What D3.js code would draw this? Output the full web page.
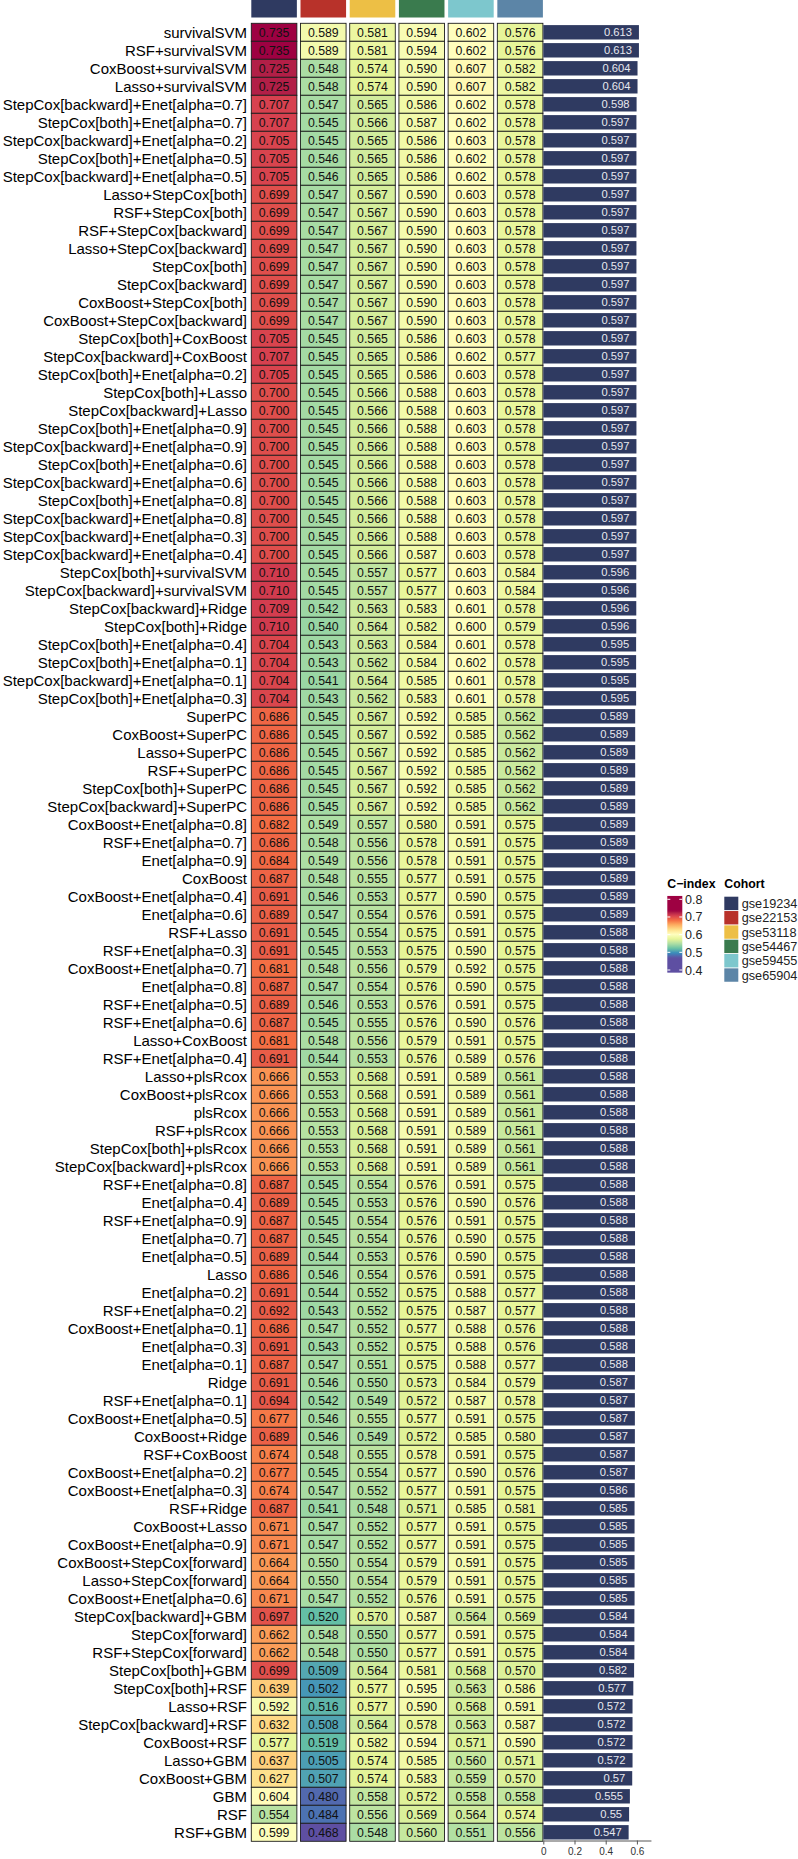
<!DOCTYPE html>
<html>
<head>
<meta charset="utf-8">
<script src="https://cdn.jsdelivr.net/npm/d3@7"></script>
<style>
  body { margin: 0; background: #fff; }
  svg { display: block; font-family: "Liberation Sans", Arial, sans-serif; }
</style>
</head>
<body>
<div id="chart"></div>
<script>
// model names, top to bottom
const methods = [
  "survivalSVM", "RSF+survivalSVM", "CoxBoost+survivalSVM", "Lasso+survivalSVM",
  "StepCox[backward]+Enet[alpha=0.7]", "StepCox[both]+Enet[alpha=0.7]", "StepCox[backward]+Enet[alpha=0.2]",
  "StepCox[both]+Enet[alpha=0.5]", "StepCox[backward]+Enet[alpha=0.5]", "Lasso+StepCox[both]",
  "RSF+StepCox[both]", "RSF+StepCox[backward]", "Lasso+StepCox[backward]", "StepCox[both]",
  "StepCox[backward]", "CoxBoost+StepCox[both]", "CoxBoost+StepCox[backward]", "StepCox[both]+CoxBoost",
  "StepCox[backward]+CoxBoost", "StepCox[both]+Enet[alpha=0.2]", "StepCox[both]+Lasso",
  "StepCox[backward]+Lasso", "StepCox[both]+Enet[alpha=0.9]", "StepCox[backward]+Enet[alpha=0.9]",
  "StepCox[both]+Enet[alpha=0.6]", "StepCox[backward]+Enet[alpha=0.6]", "StepCox[both]+Enet[alpha=0.8]",
  "StepCox[backward]+Enet[alpha=0.8]", "StepCox[backward]+Enet[alpha=0.3]", "StepCox[backward]+Enet[alpha=0.4]",
  "StepCox[both]+survivalSVM", "StepCox[backward]+survivalSVM", "StepCox[backward]+Ridge", "StepCox[both]+Ridge",
  "StepCox[both]+Enet[alpha=0.4]", "StepCox[both]+Enet[alpha=0.1]", "StepCox[backward]+Enet[alpha=0.1]",
  "StepCox[both]+Enet[alpha=0.3]", "SuperPC", "CoxBoost+SuperPC", "Lasso+SuperPC", "RSF+SuperPC",
  "StepCox[both]+SuperPC", "StepCox[backward]+SuperPC", "CoxBoost+Enet[alpha=0.8]", "RSF+Enet[alpha=0.7]",
  "Enet[alpha=0.9]", "CoxBoost", "CoxBoost+Enet[alpha=0.4]", "Enet[alpha=0.6]", "RSF+Lasso",
  "RSF+Enet[alpha=0.3]", "CoxBoost+Enet[alpha=0.7]", "Enet[alpha=0.8]", "RSF+Enet[alpha=0.5]",
  "RSF+Enet[alpha=0.6]", "Lasso+CoxBoost", "RSF+Enet[alpha=0.4]", "Lasso+plsRcox", "CoxBoost+plsRcox",
  "plsRcox", "RSF+plsRcox", "StepCox[both]+plsRcox", "StepCox[backward]+plsRcox", "RSF+Enet[alpha=0.8]",
  "Enet[alpha=0.4]", "RSF+Enet[alpha=0.9]", "Enet[alpha=0.7]", "Enet[alpha=0.5]", "Lasso",
  "Enet[alpha=0.2]", "RSF+Enet[alpha=0.2]", "CoxBoost+Enet[alpha=0.1]", "Enet[alpha=0.3]", "Enet[alpha=0.1]",
  "Ridge", "RSF+Enet[alpha=0.1]", "CoxBoost+Enet[alpha=0.5]", "CoxBoost+Ridge", "RSF+CoxBoost",
  "CoxBoost+Enet[alpha=0.2]", "CoxBoost+Enet[alpha=0.3]", "RSF+Ridge", "CoxBoost+Lasso",
  "CoxBoost+Enet[alpha=0.9]", "CoxBoost+StepCox[forward]", "Lasso+StepCox[forward]", "CoxBoost+Enet[alpha=0.6]",
  "StepCox[backward]+GBM", "StepCox[forward]", "RSF+StepCox[forward]", "StepCox[both]+GBM",
  "StepCox[both]+RSF", "Lasso+RSF", "StepCox[backward]+RSF", "CoxBoost+RSF", "Lasso+GBM",
  "CoxBoost+GBM", "GBM", "RSF", "RSF+GBM"
];

const cohorts = ["gse19234", "gse22153", "gse53118", "gse54467", "gse59455", "gse65904"];
const cohortColors = ["#2F3A61", "#B8322A", "#EDBF45", "#3A7B4E", "#7DC7CD", "#5C85A7"];

// C-index per cohort, same order as methods
const gse19234 = [
  .735, .735, .725, .725, .707, .707, .705, .705, .705, .699, .699, .699, .699, .699, .699, .699, .699, .705, .707, .705,
  .700, .700, .700, .700, .700, .700, .700, .700, .700, .700, .710, .710, .709, .710, .704, .704, .704, .704, .686, .686,
  .686, .686, .686, .686, .682, .686, .684, .687, .691, .689, .691, .691, .681, .687, .689, .687, .681, .691, .666, .666,
  .666, .666, .666, .666, .687, .689, .687, .687, .689, .686, .691, .692, .686, .691, .687, .691, .694, .677, .689, .674,
  .677, .674, .687, .671, .671, .664, .664, .671, .697, .662, .662, .699, .639, .592, .632, .577, .637, .627, .604, .554,
  .599
];
const gse22153 = [
  .589, .589, .548, .548, .547, .545, .545, .546, .546, .547, .547, .547, .547, .547, .547, .547, .547, .545, .545, .545,
  .545, .545, .545, .545, .545, .545, .545, .545, .545, .545, .545, .545, .542, .540, .543, .543, .541, .543, .545, .545,
  .545, .545, .545, .545, .549, .548, .549, .548, .546, .547, .545, .545, .548, .547, .546, .545, .548, .544, .553, .553,
  .553, .553, .553, .553, .545, .545, .545, .545, .544, .546, .544, .543, .547, .543, .547, .546, .542, .546, .546, .548,
  .545, .547, .541, .547, .547, .550, .550, .547, .520, .548, .548, .509, .502, .516, .508, .519, .505, .507, .480, .484,
  .468
];
const gse53118 = [
  .581, .581, .574, .574, .565, .566, .565, .565, .565, .567, .567, .567, .567, .567, .567, .567, .567, .565, .565, .565,
  .566, .566, .566, .566, .566, .566, .566, .566, .566, .566, .557, .557, .563, .564, .563, .562, .564, .562, .567, .567,
  .567, .567, .567, .567, .557, .556, .556, .555, .553, .554, .554, .553, .556, .554, .553, .555, .556, .553, .568, .568,
  .568, .568, .568, .568, .554, .553, .554, .554, .553, .554, .552, .552, .552, .552, .551, .550, .549, .555, .549, .555,
  .554, .552, .548, .552, .552, .554, .554, .552, .570, .550, .550, .564, .577, .577, .564, .582, .574, .574, .558, .556,
  .548
];
const gse54467 = [
  .594, .594, .590, .590, .586, .587, .586, .586, .586, .590, .590, .590, .590, .590, .590, .590, .590, .586, .586, .586,
  .588, .588, .588, .588, .588, .588, .588, .588, .588, .587, .577, .577, .583, .582, .584, .584, .585, .583, .592, .592,
  .592, .592, .592, .592, .580, .578, .578, .577, .577, .576, .575, .575, .579, .576, .576, .576, .579, .576, .591, .591,
  .591, .591, .591, .591, .576, .576, .576, .576, .576, .576, .575, .575, .577, .575, .575, .573, .572, .577, .572, .578,
  .577, .577, .571, .577, .577, .579, .579, .576, .587, .577, .577, .581, .595, .590, .578, .594, .585, .583, .572, .569,
  .560
];
const gse59455 = [
  .602, .602, .607, .607, .602, .602, .603, .602, .602, .603, .603, .603, .603, .603, .603, .603, .603, .603, .602, .603,
  .603, .603, .603, .603, .603, .603, .603, .603, .603, .603, .603, .603, .601, .600, .601, .602, .601, .601, .585, .585,
  .585, .585, .585, .585, .591, .591, .591, .591, .590, .591, .591, .590, .592, .590, .591, .590, .591, .589, .589, .589,
  .589, .589, .589, .589, .591, .590, .591, .590, .590, .591, .588, .587, .588, .588, .588, .584, .587, .591, .585, .591,
  .590, .591, .585, .591, .591, .591, .591, .591, .564, .591, .591, .568, .563, .568, .563, .571, .560, .559, .558, .564,
  .551
];
const gse65904 = [
  .576, .576, .582, .582, .578, .578, .578, .578, .578, .578, .578, .578, .578, .578, .578, .578, .578, .578, .577, .578,
  .578, .578, .578, .578, .578, .578, .578, .578, .578, .578, .584, .584, .578, .579, .578, .578, .578, .578, .562, .562,
  .562, .562, .562, .562, .575, .575, .575, .575, .575, .575, .575, .575, .575, .575, .575, .576, .575, .576, .561, .561,
  .561, .561, .561, .561, .575, .576, .575, .575, .575, .575, .577, .577, .576, .576, .577, .579, .578, .575, .580, .575,
  .576, .575, .581, .575, .575, .575, .575, .575, .569, .575, .575, .570, .586, .591, .587, .590, .571, .570, .558, .574,
  .556
];
// mean C-index (bar chart)
const meanCindex = [
  .613, .613, .604, .604, .598, .597, .597, .597, .597, .597, .597, .597, .597, .597, .597, .597, .597, .597, .597, .597,
  .597, .597, .597, .597, .597, .597, .597, .597, .597, .597, .596, .596, .596, .596, .595, .595, .595, .595, .589, .589,
  .589, .589, .589, .589, .589, .589, .589, .589, .589, .589, .588, .588, .588, .588, .588, .588, .588, .588, .588, .588,
  .588, .588, .588, .588, .588, .588, .588, .588, .588, .588, .588, .588, .588, .588, .588, .587, .587, .587, .587, .587,
  .587, .586, .585, .585, .585, .585, .585, .585, .584, .584, .584, .582, .577, .572, .572, .572, .572, .57, .555, .55,
  .547
];

const xTicks = [0, 0.2, 0.4, 0.6];
const legendTicks = [0.4, 0.5, 0.6, 0.7, 0.8];
const spectral = ["#5E4FA2", "#3288BD", "#66C2A5", "#ABDDA4", "#E6F598", "#FFFFBF",
                  "#FEE08B", "#FDAE61", "#F46D43", "#D53E4F", "#9E0142"];

function drawChart() {
  const width = 798, height = 1859;
  const cohortValues = [gse19234, gse22153, gse53118, gse54467, gse59455, gse65904];

  const svg = d3.select("#chart").append("svg")
    .attr("width", width)
    .attr("height", height);

  const y = d3.scaleBand().domain(methods).range([23.3, 1841.3]);
  const yBar = d3.scaleBand().domain(methods).range([23.3, 1841.3]).paddingInner(0.2).paddingOuter(0.1);
  const xCol = d3.scaleBand().domain(cohorts).range([251.3, 251.3 + 6 * 48.6]).paddingInner(0.074);

  // colour stretched over the data range, clamped outside
  const allVals = cohortValues.flat();
  const lo = d3.min(allVals), hi = d3.max(allVals);
  const color = d3.scaleLinear()
    .domain(spectral.map((c, i) => lo + i * (hi - lo) / (spectral.length - 1)))
    .range(spectral)
    .interpolate(d3.interpolateLab)
    .clamp(true);

  // row labels
  svg.append("g").selectAll("text")
    .data(methods)
    .join("text")
    .attr("x", 247)
    .attr("y", d => y(d) + y.bandwidth() / 2)
    .attr("dy", "0.35em")
    .attr("text-anchor", "end")
    .style("font-size", "15px")
    .text(d => d);

  // cohort header strip
  svg.append("g").selectAll("rect")
    .data(cohorts)
    .join("rect")
    .attr("x", d => xCol(d))
    .attr("y", 0)
    .attr("width", xCol.bandwidth())
    .attr("height", 17.5)
    .attr("fill", (d, i) => cohortColors[i]);

  // heatmap cells
  const cells = [];
  cohorts.forEach((c, j) => {
    methods.forEach((m, i) => cells.push({ cohort: c, method: m, value: cohortValues[j][i] }));
  });

  const cell = svg.append("g").selectAll("g")
    .data(cells)
    .join("g")
    .attr("transform", d => `translate(${xCol(d.cohort)},${y(d.method)})`);

  cell.append("rect")
    .attr("width", xCol.bandwidth())
    .attr("height", y.bandwidth())
    .attr("fill", d => color(d.value))
    .attr("stroke", "#1c1c1c")
    .attr("stroke-width", 0.9);

  cell.append("text")
    .attr("x", xCol.bandwidth() / 2)
    .attr("y", y.bandwidth() / 2)
    .attr("dy", "0.36em")
    .attr("text-anchor", "middle")
    .style("font-size", "12.3px")
    .attr("fill", "#111")
    .text(d => d.value.toFixed(3));

  // mean C-index bars
  const x = d3.scaleLinear().domain([0, 0.69]).range([543.3, 543.3 + 0.69 * 156]);

  const bars = svg.append("g").selectAll("g")
    .data(methods.map((m, i) => ({ method: m, value: meanCindex[i] })))
    .join("g");

  bars.append("rect")
    .attr("x", x(0))
    .attr("y", d => yBar(d.method))
    .attr("width", d => x(d.value) - x(0))
    .attr("height", yBar.bandwidth())
    .attr("fill", "#2F3A61");

  bars.append("text")
    .attr("x", d => x(d.value) - 7)
    .attr("y", d => yBar(d.method) + yBar.bandwidth() / 2)
    .attr("dy", "0.36em")
    .attr("text-anchor", "end")
    .attr("fill", "#e8e8ee")
    .style("font-size", "11.2px")
    .text(d => String(d.value));

  const axis = svg.append("g")
    .attr("transform", "translate(0,1840.5)")
    .call(d3.axisBottom(x).tickValues(xTicks).tickSize(4).tickSizeOuter(0).tickFormat(d3.format("~g")));
  axis.select(".domain").attr("stroke", "#555");
  axis.selectAll(".tick line").attr("stroke", "#555");
  axis.selectAll(".tick text")
    .attr("fill", "#333")
    .style("font-size", "10px")
    .style("font-family", "Liberation Sans, Arial, sans-serif");

  drawLegend(svg, color);
}

function drawLegend(svg, color) {
  // C-index colourbar
  const lg = svg.append("g");
  lg.append("text")
    .attr("x", 667.3).attr("y", 888)
    .style("font-size", "12.3px").style("font-weight", "bold")
    .text("C\u2212index");

  const ly = d3.scaleLinear().domain([0.4, 0.8]).range([970, 899.3]);
  const top = 0.819, bottom = 0.385;

  const grad = svg.append("defs").append("linearGradient")
    .attr("id", "cbar").attr("x1", 0).attr("x2", 0).attr("y1", 0).attr("y2", 1);
  d3.range(0, 1.0001, 0.02).forEach(t => {
    grad.append("stop")
      .attr("offset", t)
      .attr("stop-color", color(top - t * (top - bottom)));
  });

  lg.append("rect")
    .attr("x", 667.3).attr("y", ly(top))
    .attr("width", 15).attr("height", ly(bottom) - ly(top))
    .attr("fill", "url(#cbar)");

  legendTicks.forEach(v => {
    lg.append("line").attr("x1", 667.3).attr("x2", 670.3).attr("y1", ly(v)).attr("y2", ly(v))
      .attr("stroke", "#fff").attr("stroke-width", 1);
    lg.append("line").attr("x1", 679.3).attr("x2", 682.3).attr("y1", ly(v)).attr("y2", ly(v))
      .attr("stroke", "#fff").attr("stroke-width", 1);
    lg.append("text")
      .attr("x", 685).attr("y", ly(v)).attr("dy", "0.36em")
      .style("font-size", "12.5px").attr("fill", "#222")
      .text(v.toFixed(1));
  });

  // cohort swatches
  const cg = svg.append("g");
  cg.append("text")
    .attr("x", 724.3).attr("y", 888)
    .style("font-size", "12.3px").style("font-weight", "bold")
    .text("Cohort");

  const key = cg.selectAll("g")
    .data(cohorts)
    .join("g")
    .attr("transform", (d, i) => `translate(724.3,${896.7 + i * 14.33})`);

  key.append("rect")
    .attr("width", 14).attr("height", 13.4)
    .attr("fill", (d, i) => cohortColors[i]);

  key.append("text")
    .attr("x", 17.4).attr("y", 6.9).attr("dy", "0.36em")
    .style("font-size", "12.7px").attr("fill", "#222")
    .text(d => d);
}

drawChart();
</script>
</body>
</html>
